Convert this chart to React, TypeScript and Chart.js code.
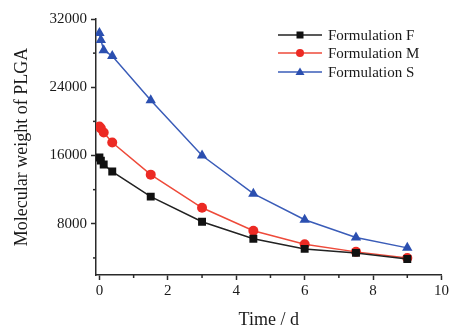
import React, { useEffect, useRef } from "react";
import { Chart, registerables } from "chart.js";

Chart.register(...registerables);

const timeDays = [0, 0.042, 0.125, 0.375, 1.5, 3, 4.5, 6, 7.5, 9];
const formulationF = [15760, 15400, 14940, 14120, 11180, 8240, 6240, 5060, 4590, 3880];
const formulationM = [19410, 19180, 18700, 17530, 13760, 9880, 7180, 5600, 4710, 4000];
const formulationS = [30350, 29530, 28350, 27650, 22470, 16000, 11530, 8470, 6400, 5180];
const seriesNames = ["Formulation F", "Formulation M", "Formulation S"];
const xTickValues = [0, 1, 2, 3, 4, 5, 6, 7, 8, 9, 10];
const xTickLabels = ["0", "2", "4", "6", "8", "10"];
const yTickValues = [4000, 8000, 12000, 16000, 20000, 24000, 28000, 32000];
const yTickLabels = ["8000", "16000", "24000", "32000"];

const FONT = "'Liberation Serif', 'DejaVu Serif', serif";
const AXIS = "#2a2a2a";
const COLORS = ["#111111", "#ec2a24", "#2b4fb0"];
const LINECOLORS = ["#222222", "#ee4a3a", "#3a5cb8"];
const STYLES = ["rect", "circle", "triangle"];
const RADII = [5.6, 5, 6];

const minorTicks = {
  id: "minorTicks",
  afterDraw(chart: any) {
    const ctx = chart.ctx;
    const xs = chart.scales.x;
    const ys = chart.scales.y;
    ctx.save();
    ctx.strokeStyle = AXIS;
    ctx.lineWidth = 1.5;
    xTickValues.forEach((v) => {
      if (xTickLabels.includes(String(v))) return;
      const px = xs.getPixelForValue(v);
      ctx.beginPath();
      ctx.moveTo(px, ys.bottom);
      ctx.lineTo(px, ys.bottom + 3);
      ctx.stroke();
    });
    yTickValues.forEach((v) => {
      if (yTickLabels.includes(String(v))) return;
      const py = ys.getPixelForValue(v);
      ctx.beginPath();
      ctx.moveTo(xs.left, py);
      ctx.lineTo(xs.left - 3, py);
      ctx.stroke();
    });
    ctx.restore();
  },
};

const lineLegend = {
  id: "lineLegend",
  afterDraw(chart: any) {
    const ctx = chart.ctx;
    const x0 = 278;
    const x1 = 322;
    const rows = [35, 53, 72];
    ctx.save();
    seriesNames.forEach((name, i) => {
      const y = rows[i];
      ctx.strokeStyle = LINECOLORS[i];
      ctx.lineWidth = 1.5;
      ctx.beginPath();
      ctx.moveTo(x0, y);
      ctx.lineTo(x1, y);
      ctx.stroke();
      ctx.fillStyle = COLORS[i];
      ctx.beginPath();
      const cx = (x0 + x1) / 2;
      if (i === 0) {
        ctx.rect(cx - 3.5, y - 3.5, 7, 7);
      } else if (i === 1) {
        ctx.arc(cx, y, 4, 0, Math.PI * 2);
      } else {
        ctx.moveTo(cx, y - 4.5);
        ctx.lineTo(cx + 4.5, y + 3);
        ctx.lineTo(cx - 4.5, y + 3);
        ctx.closePath();
      }
      ctx.fill();
      ctx.fillStyle = "#1a1a1a";
      ctx.font = `15px ${FONT}`;
      ctx.textAlign = "left";
      ctx.textBaseline = "middle";
      ctx.fillText(name, 328, y + 1);
    });
    ctx.restore();
  },
};

export default function App() {
  const ref = useRef<HTMLCanvasElement | null>(null);
  useEffect(() => {
    if (!ref.current) return;
    const series = [formulationF, formulationM, formulationS];
    const chart = new Chart(ref.current, {
      type: "line",
      data: {
        datasets: series.map((vals, i) => ({
          label: seriesNames[i],
          data: vals.map((v, j) => ({ x: timeDays[j], y: v })),
          borderColor: LINECOLORS[i],
          backgroundColor: COLORS[i],
          pointBackgroundColor: COLORS[i],
          pointBorderColor: COLORS[i],
          pointBorderWidth: 0,
          pointStyle: STYLES[i] as any,
          pointRadius: RADII[i],
          borderWidth: 1.5,
          tension: 0,
        })),
      },
      options: {
        animation: false,
        responsive: false,
        maintainAspectRatio: false,
        layout: { padding: { top: 19, right: 9, left: 0, bottom: 0 } },
        plugins: { legend: { display: false }, tooltip: { enabled: false } },
        scales: {
          x: {
            type: "linear",
            min: -0.1,
            max: 10,
            afterBuildTicks: (s: any) => {
              s.ticks = xTickValues.map((v) => ({ value: v }));
            },
            afterFit: (s: any) => {
              s.height = 54;
            },
            ticks: {
              autoSkip: false,
              maxRotation: 0,
              padding: 2,
              color: "#1a1a1a",
              font: { family: FONT, size: 15 },
              callback: (v: any) => (xTickLabels.includes(String(v)) ? String(v) : ""),
            },
            grid: {
              drawOnChartArea: false,
              drawTicks: true,
              tickLength: 5,
              tickWidth: 1.5,
              tickColor: (c: any) =>
                c.tick && xTickLabels.includes(String(c.tick.value)) ? AXIS : "rgba(0,0,0,0)",
            },
            border: { color: AXIS, width: 1.5 },
            title: {
              display: true,
              text: "Time / d",
              color: "#1a1a1a",
              font: { family: FONT, size: 18, lineHeight: 1 },
              padding: { top: 0, bottom: 0 },
            },
          },
          y: {
            type: "linear",
            min: 2000,
            max: 32000,
            afterBuildTicks: (s: any) => {
              s.ticks = yTickValues.map((v) => ({ value: v }));
            },
            afterFit: (s: any) => {
              s.width = 96;
            },
            ticks: {
              autoSkip: false,
              padding: 4,
              color: "#1a1a1a",
              font: { family: FONT, size: 15 },
              callback: (v: any) => (yTickLabels.includes(String(v)) ? String(v) : ""),
            },
            grid: {
              drawOnChartArea: false,
              drawTicks: true,
              tickLength: 5,
              tickWidth: 1.5,
              tickColor: (c: any) =>
                c.tick && yTickLabels.includes(String(c.tick.value)) ? AXIS : "rgba(0,0,0,0)",
            },
            border: { color: AXIS, width: 1.5 },
            title: {
              display: true,
              text: "Molecular weight of PLGA",
              color: "#1a1a1a",
              font: { family: FONT, size: 18, lineHeight: 1 },
              padding: { top: 13, bottom: 0 },
            },
          },
        },
      },
      plugins: [minorTicks, lineLegend],
    });
    return () => chart.destroy();
  }, []);
  return (
    <div style={{ position: "absolute", left: 0, top: 0, width: 451, height: 329, background: "#fff" }}>
      <canvas ref={ref} width={451} height={329} />
    </div>
  );
}
